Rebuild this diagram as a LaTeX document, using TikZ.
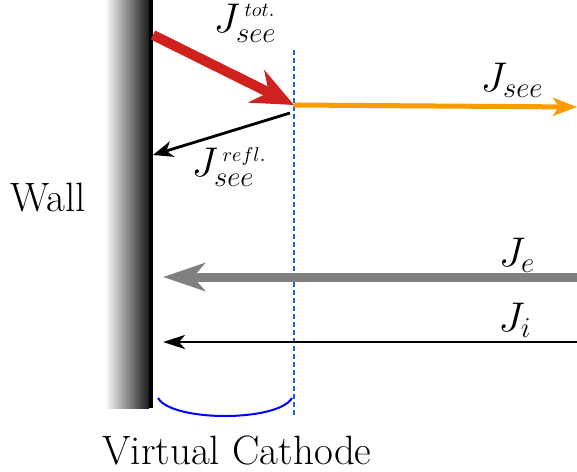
\documentclass[tikz,border=0pt]{standalone}
\usetikzlibrary{arrows.meta}
\definecolor{redarr}{RGB}{208,32,32}
\definecolor{orangearr}{RGB}{250,155,0}
\definecolor{grayarr}{RGB}{128,128,128}
\definecolor{dashblue}{RGB}{30,90,255}
\begin{document}
\begin{tikzpicture}[x=0.5pt,y=-0.5pt,
  lbl/.style={inner sep=0pt,font=\fontsize{20.5}{22}\selectfont}]
\useasboundingbox (0,0) rectangle (577,471);
% wall
\shade[left color=white,right color=black!90] (105,0) rectangle (149,408);
\fill[black] (149,0) rectangle (153,408);
\coordinate (wallA) at (153,35);
\coordinate (wallB) at (153,155);
\coordinate (vc) at (294,105);
\coordinate (vcb) at (290,113);
\coordinate (rE) at (577,107);
\coordinate (rG) at (577,277);
\coordinate (lG) at (163,277);
\coordinate (rI) at (577,342);
\coordinate (lI) at (163,342);
\coordinate (dTop) at (294,50);
\coordinate (dBot) at (294,415);
\coordinate (bL) at (158,398);
\coordinate (bR) at (292,398);
% dashed virtual cathode line
\draw[dashblue,line width=0.6pt,dash pattern=on 2.5pt off 1.5pt] (dTop) -- (dBot);
% arrows
\draw[redarr,line width=5pt,-{Stealth[length=21pt,width=18pt,inset=7pt]}] (wallA) -- (vc);
\draw[orangearr,line width=2.5pt,-{Stealth[length=12pt,width=9pt,inset=3pt]}] (vc) -- (rE);
\draw[black,line width=1.4pt,-{Stealth[length=10pt,width=8pt,inset=3pt]}] (vcb) -- (wallB);
\draw[grayarr,line width=4.5pt,-{Stealth[length=21pt,width=14pt,inset=6pt]}] (rG) -- (lG);
\draw[black,line width=1.4pt,-{Stealth[length=11pt,width=7pt,inset=3pt]}] (rI) -- (lI);
% brace
\draw[blue,line width=1pt] (bL) .. controls (172,422) and (278,422) .. (bR);
% labels
\node[lbl] (ltot) at (245,23) {$J_{see}^{\,\scriptscriptstyle tot.}$};
\node[lbl] (lsee) at (512,80) {$J_{see}$};
\node[lbl] (lrefl) at (229,167) {$J_{see}^{\,\scriptscriptstyle refl.}$};
\node[lbl] (le) at (517,255) {$J_{e}$};
\node[lbl] (li) at (515,320) {$J_{i}$};
\node[lbl] (lwall) at (48,198) {Wall};
\node[lbl] (lvc) at (237,450) {Virtual Cathode};
\end{tikzpicture}
\end{document}
